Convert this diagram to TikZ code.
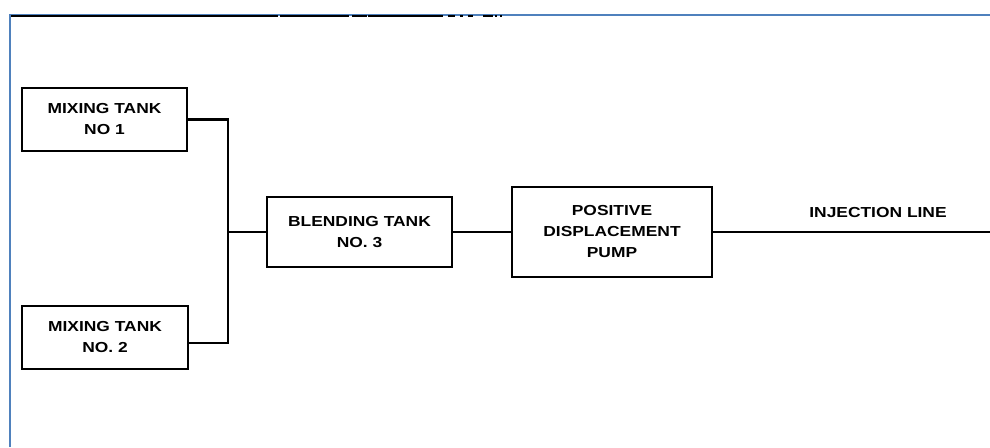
\documentclass[tikz,border=0pt]{standalone}
\usepackage{fontspec}
\setmainfont{Liberation Sans}[FakeStretch=1.2]
\definecolor{framblue}{RGB}{79,129,189}
\begin{document}
\begin{tikzpicture}[x=1pt,y=-1pt,
  tankbox/.style={draw=black,line width=2.2pt,align=center,inner sep=0pt,
    font=\fontsize{14.5}{21}\selectfont\bfseries},
  pipe/.style={draw=black,line width=2.2pt},
  lbl/.style={inner sep=0pt,font=\fontsize{14.5}{21}\selectfont\bfseries}]
\useasboundingbox (0,0) rectangle (990,447);
% frame
\draw[framblue,line width=2pt] (10,447) -- (10,14.5) -- (990,14.5);
\draw[black,line width=1.8pt] (11,16) -- (278,16) (280,16) -- (349,16) (352,16) -- (367,16) (368,16) -- (443,16)
  (448,16) -- (455,16) (460,16) -- (463,16) (468,16) -- (473,16) (483,16) -- (493,16) (495,16) -- (497,16) (500,16) -- (502,16);
% nodes
\node[tankbox,minimum width=165,minimum height=63] (mt1) at (104.5,119.5) {MIXING TANK\\NO 1};
\node[tankbox,minimum width=166,minimum height=63] (mt2) at (105,337.5) {MIXING TANK\\NO. 2};
\node[tankbox,minimum width=185,minimum height=70] (bt) at (359.5,232) {BLENDING TANK\\NO. 3};
\node[tankbox,minimum width=200,minimum height=90] (pump) at (612,232) {POSITIVE\\DISPLACEMENT\\PUMP};
\coordinate (j1) at (228,119.5);
\coordinate (j2) at (228,343);
\coordinate (jm) at (228,232);
\coordinate (inj) at (990,232);
\node[lbl] (injlbl) at (878,213) {INJECTION LINE};
% connectors
\draw[pipe] (mt1.east) -- (j1) -- (j2) -- (mt2.east |- j2);
\draw[pipe] (jm) -- (bt.west);
\draw[pipe] (bt.east) -- (pump.west);
\draw[pipe] (pump.east) -- (inj);
\end{tikzpicture}
\end{document}
